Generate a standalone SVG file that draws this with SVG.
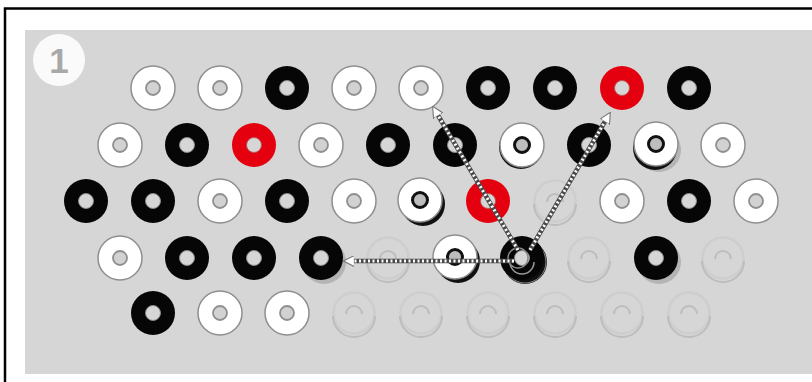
<svg xmlns="http://www.w3.org/2000/svg" xmlns:xlink="http://www.w3.org/1999/xlink" width="812" height="382" viewBox="0 0 812 382">
<style>
.wo{fill:#fff;stroke:#8f8f8f;stroke-width:1.5}
.wi{fill:#d2d2d2;stroke:#8f8f8f;stroke-width:1.8}
.wd{fill:#bdbdbd;stroke:#111;stroke-width:3}
.bo{fill:#060606}
.bi{fill:#d6d6d6;stroke:#888;stroke-width:1}
.ro{fill:#e5000f}
.ri{fill:#d6d6d6;stroke:#b55;stroke-width:1}
.gr{fill:none;stroke:#cecece;stroke-width:2.5}
.gs{fill:none;stroke:#bdbdbd;stroke-width:2}
.sh{fill:#111}
.sg{fill:#b4b4b4}
.under{fill:none;stroke:#4a4a4a;stroke-width:4.5}
.over{fill:none;stroke:#fff;stroke-width:3;stroke-dasharray:2 2.5}
</style>
<defs>
<g id="W"><circle r="22" class="wo"/><circle r="7" class="wi"/></g>
<g id="WD"><circle r="22" class="wo"/><circle r="7.5" class="wd"/></g>
<g id="B"><circle r="22" class="bo"/><circle r="7.5" class="bi"/></g>
<g id="R"><circle r="22" class="ro"/><circle r="7.5" class="ri"/></g>
<g id="G"><circle r="20.5" class="gr"/><path class="gs" d="M-21,3 A21,21 0 0,0 21,3"/><path class="gs" d="M-8,1 A8,8 0 0,1 8,1"/></g>
<marker id="ah" viewBox="0 0 10 10" refX="4" refY="5" markerWidth="11" markerHeight="11" markerUnits="userSpaceOnUse" orient="auto"><path d="M0,0 L10,5 L0,10 z" fill="#fff" stroke="#777" stroke-width="1"/></marker>
</defs>
<rect x="5" y="8.5" width="820" height="390" fill="#fff" stroke="#000" stroke-width="2.5"/>
<rect x="25" y="30" width="800" height="344" fill="#d6d6d6"/>
<g id="label1"><circle cx="59" cy="60" r="26" fill="#fafafa"/><text x="59" y="73" text-anchor="middle" font-family="Liberation Sans, Arial, sans-serif" font-weight="bold" font-size="35" fill="#a8a8a8">1</text></g>

<!-- row 1 -->
<g id="r1c1"><use href="#W" x="153" y="88"/></g>
<g id="r1c2"><use href="#W" x="220" y="88"/></g>
<g id="r1c3"><use href="#B" x="287" y="88"/></g>
<g id="r1c4"><use href="#W" x="354" y="88"/></g>
<g id="r1c5"><use href="#W" x="421" y="88"/></g>
<g id="r1c6"><use href="#B" x="488" y="88"/></g>
<g id="r1c7"><use href="#B" x="555" y="88"/></g>
<g id="r1c8"><use href="#R" x="622" y="88"/></g>
<g id="r1c9"><use href="#B" x="689" y="88"/></g>
<!-- row 2 -->
<g id="r2c1"><use href="#W" x="120" y="145"/></g>
<g id="r2c2"><use href="#B" x="187" y="145"/></g>
<g id="r2c3"><use href="#R" x="254" y="145"/></g>
<g id="r2c4"><use href="#W" x="321" y="145"/></g>
<g id="r2c5"><use href="#B" x="388" y="145"/></g>
<g id="r2c6"><use href="#B" x="455" y="145"/></g>
<g id="r2c7"><circle cx="521" cy="147" r="22" class="sh"/><use href="#WD" x="522" y="145"/></g>
<g id="r2c8"><use href="#B" x="589" y="145"/></g>
<g id="r2c9"><circle cx="659" cy="150" r="22" class="sg"/><circle cx="655" cy="148" r="22" class="sh"/><use href="#WD" x="656" y="144"/></g>
<g id="r2c10"><use href="#W" x="723" y="145"/></g>
<!-- row 3 -->
<g id="r3c1"><use href="#B" x="86" y="201"/></g>
<g id="r3c2"><use href="#B" x="153" y="201"/></g>
<g id="r3c3"><use href="#W" x="220" y="201"/></g>
<g id="r3c4"><use href="#B" x="287" y="201"/></g>
<g id="r3c5"><use href="#W" x="354" y="201"/></g>
<g id="r3c6"><circle cx="423" cy="204" r="22" class="sh"/><use href="#WD" x="420" y="200"/></g>
<g id="r3c7"><use href="#R" x="488" y="201"/></g>
<g id="r3c8"><use href="#G" x="555" y="201"/></g>
<g id="r3c9"><use href="#W" x="622" y="201"/></g>
<g id="r3c10"><use href="#B" x="689" y="201"/></g>
<g id="r3c11"><use href="#W" x="756" y="201"/></g>
<!-- row 4 -->
<g id="r4c1"><use href="#W" x="120" y="258"/></g>
<g id="r4c2"><use href="#B" x="187" y="258"/></g>
<g id="r4c3"><use href="#B" x="254" y="258"/></g>
<g id="r4c4"><circle cx="324" cy="262" r="22" class="sg"/><use href="#B" x="321" y="258"/></g>
<g id="r4c5"><use href="#G" x="388" y="258"/></g>
<g id="r4c6"><circle cx="458" cy="261" r="22" class="sh"/><use href="#WD" x="455" y="257"/></g>
<g id="r4c7"><circle cx="525" cy="262" r="22" class="sh"/><circle cx="525" cy="262" r="21" fill="none" stroke="#888" stroke-width="1"/><use href="#B" x="522" y="258"/><path d="M510,262 A12,12 0 0,0 534,262" fill="none" stroke="#999" stroke-width="1.5"/><circle cx="518" cy="258" r="10" fill="none" stroke="#888" stroke-width="1.5"/></g>
<g id="r4c8"><use href="#G" x="589" y="258"/></g>
<g id="r4c9"><circle cx="659" cy="262" r="22" class="sg"/><use href="#B" x="656" y="258"/></g>
<g id="r4c10"><use href="#G" x="723" y="258"/></g>
<!-- row 5 -->
<g id="r5c1"><use href="#B" x="153" y="313"/></g>
<g id="r5c2"><use href="#W" x="220" y="313"/></g>
<g id="r5c3"><use href="#W" x="287" y="313"/></g>
<g id="r5c4"><use href="#G" x="354" y="313"/></g>
<g id="r5c5"><use href="#G" x="421" y="313"/></g>
<g id="r5c6"><use href="#G" x="488" y="313"/></g>
<g id="r5c7"><use href="#G" x="555" y="313"/></g>
<g id="r5c8"><use href="#G" x="622" y="313"/></g>
<g id="r5c9"><use href="#G" x="689" y="313"/></g>

<g id="connectors">
<path class="under" d="M518,250 L436,112"/>
<path class="over" d="M518,250 L436,112" marker-end="url(#ah)"/>
<path class="under" d="M530,250 L607,118"/>
<path class="over" d="M530,250 L607,118" marker-end="url(#ah)"/>
<path class="under" d="M514,261 L350,261"/>
<path class="over" d="M514,261 L350,261" marker-end="url(#ah)"/>
</g>
</svg>
